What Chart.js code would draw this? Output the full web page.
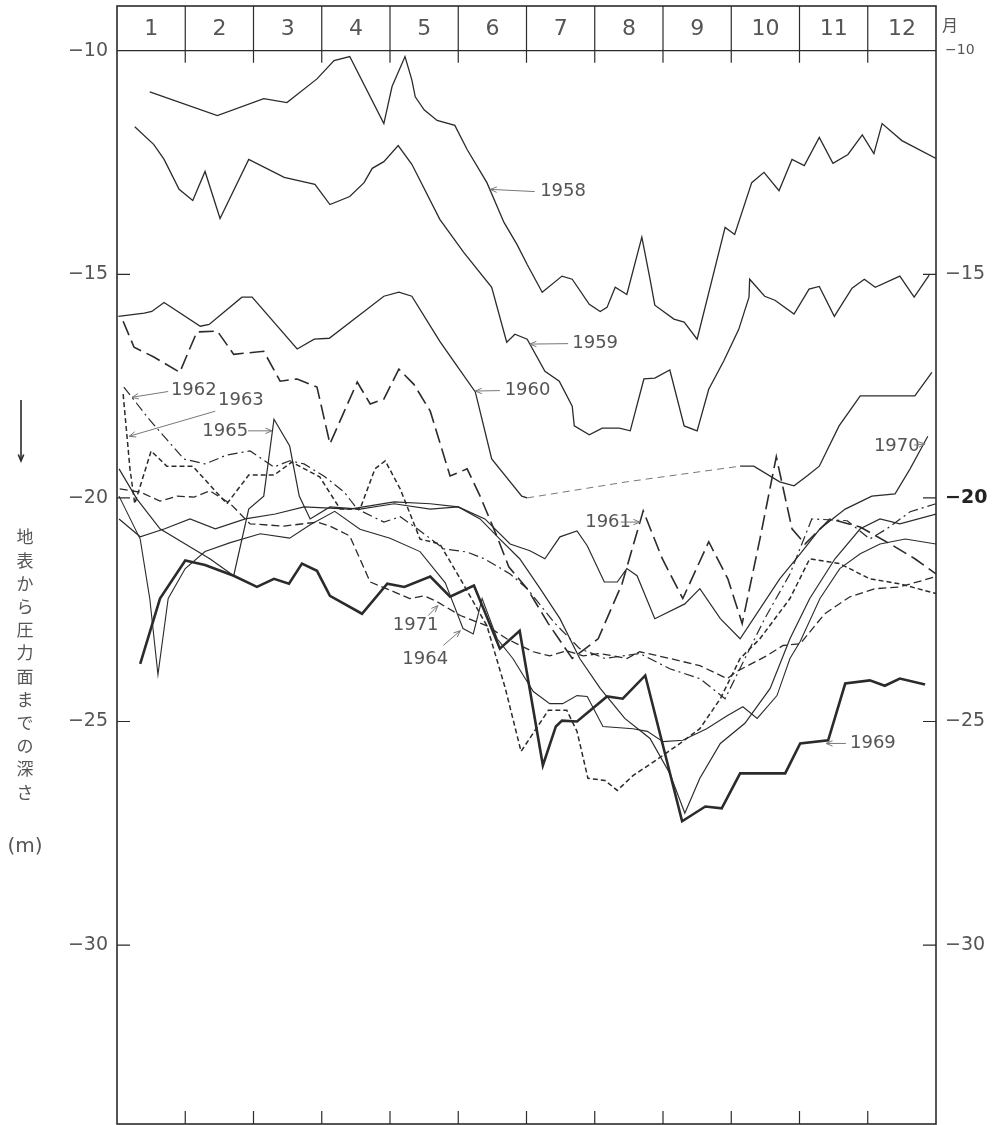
<!DOCTYPE html>
<html lang="ja">
<head>
<meta charset="UTF-8">
<title>地表から圧力面までの深さ</title>
<script src="https://cdn.jsdelivr.net/npm/chart.js"></script>
</head>
<body style="margin:0; background:#fff;">
<div style="position:relative; width:993px; height:1125px;">
    <canvas id="chart"></canvas>
</div>
<script>
// 月 (x軸) と 深さの目盛
const monthLabels = ['1', '2', '3', '4', '5', '6', '7', '8', '9', '10', '11', '12'];
const leftTicks = [-10, -15, -20, -25, -30];
const rightTicks = [-15, -20, -25, -30];

// 各年の観測値 : 位置 (月, 1月初め = 0) と深さ (m)
const m1958 = [0.48,1.47,2.15,2.49,2.93,3.18,3.41,3.91,4.03,4.22,4.32,4.37,4.50,4.69,4.95,5.13,5.42,5.67,5.86,6.01,6.23,6.52,6.67,6.92,7.08,7.18,7.30,7.47,7.69,7.81,7.88,8.16,8.31,8.50,8.91,9.05,9.30,9.48,9.70,9.89,10.07,10.29,10.49,10.71,10.92,11.09,11.21,11.50,12.00];
const d1958 = [-10.92,-11.45,-11.07,-11.16,-10.63,-10.22,-10.13,-11.63,-10.80,-10.13,-10.65,-11.03,-11.32,-11.56,-11.67,-12.21,-12.95,-13.84,-14.33,-14.78,-15.40,-15.04,-15.11,-15.67,-15.83,-15.74,-15.29,-15.45,-14.17,-15.11,-15.69,-16.00,-16.07,-16.45,-13.95,-14.11,-12.95,-12.72,-13.13,-12.43,-12.57,-11.94,-12.52,-12.32,-11.88,-12.30,-11.63,-12.01,-12.41];

const m1959 = [0.26,0.54,0.69,0.91,1.11,1.29,1.51,1.93,2.45,2.90,3.12,3.41,3.62,3.74,3.91,4.12,4.32,4.73,5.08,5.49,5.71,5.83,6.01,6.27,6.48,6.67,6.70,6.92,7.11,7.36,7.52,7.72,7.88,8.10,8.31,8.50,8.67,8.89,9.11,9.26,9.27,9.49,9.64,9.92,10.14,10.29,10.51,10.77,10.95,11.11,11.47,11.68,11.90];
const d1959 = [-11.70,-12.10,-12.43,-13.10,-13.35,-12.70,-13.75,-12.43,-12.83,-12.99,-13.44,-13.26,-12.95,-12.63,-12.48,-12.12,-12.54,-13.77,-14.51,-15.29,-16.52,-16.34,-16.45,-17.17,-17.39,-17.95,-18.39,-18.59,-18.44,-18.44,-18.50,-17.34,-17.32,-17.14,-18.39,-18.50,-17.57,-16.94,-16.23,-15.51,-15.11,-15.49,-15.58,-15.89,-15.33,-15.27,-15.94,-15.31,-15.11,-15.29,-15.04,-15.51,-15.02];

const m1960 = [0.02,0.40,0.51,0.69,1.22,1.35,1.83,1.98,2.64,2.89,3.11,3.91,4.13,4.32,4.73,4.94,5.25,5.49,5.93,6.01,7.47,9.13,9.33,9.71,9.92,10.11,10.29,10.58,10.89,11.69,11.94];
const d1960 = [-15.94,-15.87,-15.83,-15.63,-16.16,-16.12,-15.51,-15.51,-16.67,-16.45,-16.43,-15.49,-15.40,-15.49,-16.50,-16.96,-17.63,-19.13,-19.96,-20.00,-19.64,-19.29,-19.29,-19.64,-19.73,-19.51,-19.29,-18.39,-17.72,-17.72,-17.19];
const gap1960 = [6.0, 9.2]; // 欠測区間 (破線)

const m1961 = [0.09,0.25,0.54,0.92,1.17,1.47,1.71,2.15,2.39,2.64,2.93,3.12,3.52,3.71,3.91,4.13,4.35,4.59,4.88,5.13,5.32,5.57,5.74,6.01,6.32,6.67,7.05,7.40,7.71,7.99,8.29,8.67,8.95,9.16,9.42,9.66,9.89,10.08,10.45,10.89,11.33,11.69,12.00];
const d1961 = [-16.05,-16.63,-16.85,-17.19,-16.29,-16.27,-16.79,-16.72,-17.39,-17.34,-17.52,-18.79,-17.41,-17.90,-17.79,-17.12,-17.46,-18.06,-19.51,-19.35,-19.96,-20.87,-21.54,-22.03,-22.81,-23.59,-23.15,-21.92,-20.29,-21.36,-22.25,-20.98,-21.81,-22.81,-20.92,-19.08,-20.69,-21.03,-20.47,-20.65,-21.03,-21.36,-21.70];

const m1962 = [0.10,0.47,0.98,1.29,1.61,1.95,2.30,2.53,2.74,3.03,3.33,3.52,3.91,4.15,4.40,4.79,5.13,5.38,5.76,6.01,6.42,6.78,7.15,7.66,8.10,8.54,8.91,9.20,9.49,9.86,10.18,10.70,11.03,11.28,11.62,12.00];
const d1962 = [-17.52,-18.24,-19.13,-19.24,-19.04,-18.95,-19.31,-19.17,-19.24,-19.51,-19.87,-20.25,-20.54,-20.42,-20.69,-21.14,-21.21,-21.36,-21.70,-22.03,-22.81,-23.37,-23.59,-23.48,-23.82,-24.04,-24.49,-23.59,-22.70,-21.70,-20.47,-20.51,-20.92,-20.69,-20.31,-20.13];

const m1963 = [0.09,0.19,0.26,0.50,0.73,1.11,1.61,1.93,2.30,2.56,2.97,3.27,3.56,3.78,3.93,4.15,4.44,4.73,5.03,5.42,5.69,5.92,6.32,6.59,6.74,6.90,7.15,7.33,7.56,7.93,8.25,8.54,8.84,9.13,9.42,9.86,10.15,10.59,11.03,11.47,12.00];
const d1963 = [-17.68,-19.35,-20.13,-18.95,-19.29,-19.29,-20.13,-19.49,-19.49,-19.20,-19.53,-20.25,-20.25,-19.35,-19.17,-19.80,-20.92,-21.03,-21.81,-22.86,-24.26,-25.67,-24.75,-24.75,-25.22,-26.27,-26.32,-26.54,-26.21,-25.83,-25.49,-25.16,-24.49,-23.59,-23.15,-22.25,-21.36,-21.47,-21.81,-21.92,-22.14];

const m1964 = [0.03,0.34,0.48,0.60,0.75,1.00,1.29,1.66,2.10,2.53,2.83,3.19,3.56,4.00,4.44,4.81,5.07,5.22,5.35,5.57,5.80,6.10,6.34,6.53,6.74,6.89,7.12,7.56,7.77,8.00,8.29,8.64,8.94,9.17,9.38,9.67,9.86,10.01,10.30,10.59,10.89,11.18,11.55,12.00];
const d1964 = [-19.96,-20.92,-22.25,-23.95,-22.25,-21.58,-21.20,-21.00,-20.80,-20.90,-20.60,-20.30,-20.70,-20.90,-21.20,-21.90,-22.92,-23.04,-22.25,-23.15,-23.59,-24.33,-24.60,-24.60,-24.42,-24.44,-25.11,-25.16,-25.22,-25.45,-25.42,-25.16,-24.87,-24.67,-24.93,-24.42,-23.59,-23.21,-22.25,-21.58,-21.25,-21.03,-20.92,-21.03];

const m1965 = [0.03,0.29,0.63,1.00,1.36,1.71,1.93,2.15,2.30,2.53,2.67,2.83,3.12,3.56,4.06,4.59,5.00,5.32,5.61,5.90,6.20,6.49,6.78,7.08,7.44,7.81,8.10,8.32,8.54,8.84,9.20,9.57,9.86,10.15,10.52,10.89,11.18,11.47,12.00];
const d1965 = [-19.35,-20.02,-20.69,-21.03,-21.36,-21.74,-20.25,-19.96,-18.24,-18.84,-19.96,-20.47,-20.20,-20.25,-20.13,-20.25,-20.20,-20.47,-20.92,-21.36,-22.03,-22.70,-23.59,-24.26,-24.93,-25.38,-26.16,-27.05,-26.27,-25.49,-25.04,-24.26,-23.15,-22.25,-21.36,-20.69,-20.47,-20.58,-20.36];

const m1969 = [0.34,0.63,1.00,1.29,1.71,2.05,2.30,2.52,2.71,2.93,3.12,3.59,3.96,4.21,4.59,4.88,5.23,5.61,5.90,6.24,6.43,6.52,6.74,7.18,7.41,7.74,8.28,8.62,8.86,9.13,9.79,10.01,10.42,10.67,11.03,11.25,11.47,11.84];
const d1969 = [-23.71,-22.25,-21.40,-21.50,-21.74,-21.99,-21.81,-21.92,-21.47,-21.63,-22.19,-22.59,-21.92,-21.99,-21.76,-22.21,-21.96,-23.37,-22.97,-25.98,-25.11,-24.98,-25.00,-24.44,-24.49,-23.97,-27.23,-26.90,-26.94,-26.16,-26.16,-25.49,-25.42,-24.15,-24.08,-24.20,-24.04,-24.17];

const m1970 = [0.03,0.34,0.70,1.07,1.44,1.88,2.32,2.74,3.41,4.06,4.59,5.00,5.39,5.76,6.05,6.27,6.49,6.74,6.89,7.14,7.33,7.47,7.62,7.88,8.32,8.54,8.84,9.13,9.42,9.71,10.01,10.30,10.67,11.06,11.40,11.62,11.88];
const d1970 = [-20.47,-20.87,-20.69,-20.47,-20.69,-20.47,-20.36,-20.20,-20.25,-20.09,-20.13,-20.20,-20.47,-21.03,-21.18,-21.36,-20.87,-20.74,-21.07,-21.88,-21.88,-21.58,-21.74,-22.70,-22.37,-22.03,-22.70,-23.15,-22.48,-21.81,-21.25,-20.69,-20.25,-19.96,-19.91,-19.35,-18.62];

const m1971 = [0.04,0.34,0.63,0.88,1.13,1.36,1.66,1.95,2.45,2.93,3.12,3.41,3.71,4.06,4.29,4.50,4.69,5.03,5.42,5.71,6.10,6.34,6.59,6.83,7.08,7.47,7.66,8.10,8.54,8.94,9.08,9.52,9.76,10.01,10.37,10.74,11.11,11.47,12.00];
const d1971 = [-19.80,-19.87,-20.07,-19.96,-19.98,-19.84,-20.13,-20.58,-20.63,-20.54,-20.63,-20.85,-21.88,-22.10,-22.25,-22.19,-22.32,-22.63,-22.86,-23.15,-23.44,-23.53,-23.42,-23.53,-23.48,-23.59,-23.44,-23.59,-23.75,-24.04,-23.88,-23.53,-23.30,-23.26,-22.59,-22.21,-22.03,-21.99,-21.76];

// 年の注記 : 文字の位置, 矢印の根元と先端 (月, m)
const yearNotes = [
    { text: '1958', tx: 6.20, ty: -13.15, ax: 6.12, ay: -13.15, bx: 5.47, by: -13.10 },
    { text: '1959', tx: 6.67, ty: -16.55, ax: 6.61, ay: -16.55, bx: 6.05, by: -16.56 },
    { text: '1960', tx: 5.68, ty: -17.60, ax: 5.61, ay: -17.60, bx: 5.25, by: -17.61 },
    { text: '1962', tx: 0.79, ty: -17.60, ax: 0.75, ay: -17.62, bx: 0.22, by: -17.75 },
    { text: '1963', tx: 1.48, ty: -17.82, ax: 1.44, ay: -18.06, bx: 0.18, by: -18.62 },
    { text: '1965', tx: 1.25, ty: -18.50, ax: 1.92, ay: -18.50, bx: 2.27, by: -18.50 },
    { text: '1961', tx: 6.86, ty: -20.54, ax: 7.38, ay: -20.54, bx: 7.66, by: -20.54 },
    { text: '1970', tx: 11.09, ty: -18.84, ax: 11.68, ay: -18.82, bx: 11.84, by: -18.79 },
    { text: '1971', tx: 4.04, ty: -22.86, ax: 4.56, ay: -22.63, bx: 4.70, by: -22.41 },
    { text: '1964', tx: 4.18, ty: -23.62, ax: 4.78, ay: -23.30, bx: 5.03, by: -22.97 },
    { text: '1969', tx: 10.74, ty: -25.49, ax: 10.68, ay: -25.49, bx: 10.39, by: -25.49 }
];

const FONT = '"DejaVu Sans", "Noto Sans", sans-serif';
const INK = '#2b2b2b';

function pts(m, d) {
    return m.map((v, i) => ({ x: v, y: d[i] }));
}

function serie(label, m, d, width, dash, extra) {
    return Object.assign({
        label: label,
        data: pts(m, d),
        borderColor: INK,
        borderWidth: width,
        borderDash: dash,
        pointRadius: 0,
        tension: 0,
        fill: false
    }, extra || {});
}

const datasets = [
    serie('1958', m1958, d1958, 1.3, []),
    serie('1959', m1959, d1959, 1.3, []),
    serie('1960', m1960, d1960, 1.3, [], {
        segment: {
            borderDash: ctx => (ctx.p0.parsed.x >= gap1960[0] && ctx.p1.parsed.x <= gap1960[1]) ? [7, 5] : undefined,
            borderColor: ctx => (ctx.p0.parsed.x >= gap1960[0] && ctx.p1.parsed.x <= gap1960[1]) ? '#777' : undefined,
            borderWidth: ctx => (ctx.p0.parsed.x >= gap1960[0] && ctx.p1.parsed.x <= gap1960[1]) ? 1 : undefined
        }
    }),
    serie('1961', m1961, d1961, 1.6, [15, 6]),
    serie('1962', m1962, d1962, 1.2, [10, 4, 2, 4]),
    serie('1963', m1963, d1963, 1.5, [5, 3]),
    serie('1964', m1964, d1964, 1.1, []),
    serie('1965', m1965, d1965, 1.2, []),
    serie('1969', m1969, d1969, 2.6, []),
    serie('1970', m1970, d1970, 1.2, []),
    serie('1971', m1971, d1971, 1.3, [8, 4])
];

function arrow(ctx, x0, y0, x1, y1) {
    const ang = Math.atan2(y1 - y0, x1 - x0);
    ctx.beginPath();
    ctx.moveTo(x0, y0);
    ctx.lineTo(x1, y1);
    ctx.stroke();
    ctx.beginPath();
    ctx.moveTo(x1 - 7 * Math.cos(ang - 0.4), y1 - 7 * Math.sin(ang - 0.4));
    ctx.lineTo(x1, y1);
    ctx.lineTo(x1 - 7 * Math.cos(ang + 0.4), y1 - 7 * Math.sin(ang + 0.4));
    ctx.stroke();
}

// cadre, en-tête des mois, graduations et textes
const framePlugin = {
    id: 'frame',
    afterDraw(chart) {
        const { ctx, chartArea: a, scales: { x, y } } = chart;
        const y10 = y.getPixelForValue(-10);
        ctx.save();
        ctx.strokeStyle = INK;
        ctx.lineWidth = 1.6;
        ctx.strokeRect(a.left, a.top, a.right - a.left, a.bottom - a.top);
        ctx.lineWidth = 1.2;
        ctx.beginPath();
        ctx.moveTo(a.left, y10);
        ctx.lineTo(a.right, y10);
        for (let i = 1; i < 12; i++) {
            const px = x.getPixelForValue(i);
            ctx.moveTo(px, a.top);
            ctx.lineTo(px, y10 + 12);
            ctx.moveTo(px, a.bottom);
            ctx.lineTo(px, a.bottom - 13);
        }
        leftTicks.forEach(v => {
            if (v === -10) return;
            const py = y.getPixelForValue(v);
            ctx.moveTo(a.left, py);
            ctx.lineTo(a.left + 13, py);
        });
        rightTicks.forEach(v => {
            const py = y.getPixelForValue(v);
            ctx.moveTo(a.right, py);
            ctx.lineTo(a.right - 13, py);
        });
        ctx.stroke();

        // mois
        ctx.fillStyle = '#555';
        ctx.font = '22px ' + FONT;
        ctx.textAlign = 'center';
        ctx.textBaseline = 'middle';
        monthLabels.forEach((t, i) => {
            ctx.fillText(t, x.getPixelForValue(i + 0.5), (a.top + y10) / 2 + 1);
        });

        // graduations gauche
        ctx.font = '19px ' + FONT;
        ctx.textAlign = 'right';
        leftTicks.forEach(v => {
            ctx.fillText('\u2212' + Math.abs(v), a.left - 9, y.getPixelForValue(v));
        });
        // graduations droite
        ctx.textAlign = 'left';
        rightTicks.forEach(v => {
            ctx.fillStyle = v === -20 ? '#222' : '#555';
            ctx.font = (v === -20 ? '600 19px ' : '19px ') + FONT;
            ctx.fillText('\u2212' + Math.abs(v), a.right + 9, y.getPixelForValue(v));
        });
        ctx.fillStyle = '#555';
        ctx.font = '16px "Noto Sans CJK JP", sans-serif';
        ctx.fillText('月', a.right + 6, a.top + 19);
        ctx.font = '14px ' + FONT;
        ctx.fillText('\u221210', a.right + 9, y10);

        // titre vertical
        const title = '地表から圧力面までの深さ';
        ctx.font = '17px "Noto Sans CJK JP", sans-serif';
        ctx.textAlign = 'center';
        ctx.fillStyle = '#555';
        for (let i = 0; i < title.length; i++) {
            ctx.fillText(title[i], 25, 537 + i * 23.2);
        }
        ctx.font = '20px ' + FONT;
        ctx.fillText('(m)', 25, 847);
        ctx.strokeStyle = INK;
        ctx.lineWidth = 1.6;
        arrow(ctx, 21, 400, 21, 461);

        // notes des années
        ctx.font = '18px ' + FONT;
        ctx.textAlign = 'left';
        ctx.fillStyle = '#555';
        ctx.strokeStyle = '#777';
        ctx.lineWidth = 1;
        yearNotes.forEach(n => {
            ctx.fillText(n.text, x.getPixelForValue(n.tx), y.getPixelForValue(n.ty));
            arrow(ctx, x.getPixelForValue(n.ax), y.getPixelForValue(n.ay),
                  x.getPixelForValue(n.bx), y.getPixelForValue(n.by));
        });
        ctx.restore();
    }
};

new Chart(document.getElementById('chart'), {
    type: 'line',
    data: { datasets: datasets },
    options: {
        responsive: true,
        maintainAspectRatio: false,
        animation: false,
        layout: { padding: { left: 117, right: 57, top: 6, bottom: 1 } },
        plugins: { legend: { display: false }, tooltip: { enabled: false } },
        scales: {
            x: { type: 'linear', min: 0, max: 12, display: false },
            y: { type: 'linear', min: -34, max: -9, display: false }
        }
    },
    plugins: [framePlugin]
});
</script>
</body>
</html>
